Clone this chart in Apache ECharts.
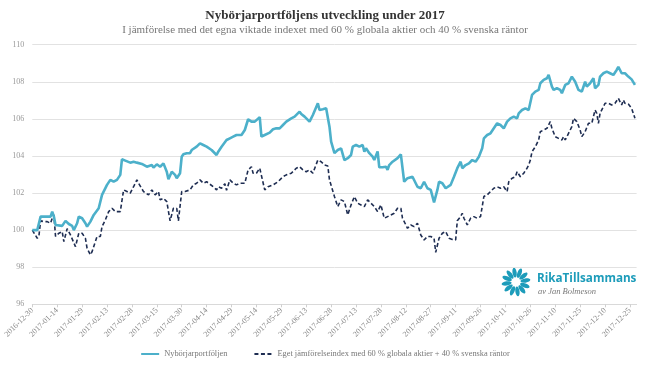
<!DOCTYPE html>
<html><head><meta charset="utf-8">
<script src="https://cdn.jsdelivr.net/npm/echarts@6/dist/echarts.min.js"></script>
<style>html,body{margin:0;padding:0;background:#fff}#c{width:650px;height:366px}</style>
</head><body><div id="c"></div>
<script>
const titleText = 'Nybörjarportföljens utveckling under 2017';
const subtitleText = 'I jämförelse med det egna viktade indexet med 60 % globala aktier och 40 % svenska räntor';
const seriesNames = ['Nybörjarportföljen', 'Eget jämförelseindex med 60 % globala aktier + 40 % svenska räntor'];
const startDate = '2016-12-30';
const dayCount = 365;
const yTicks = [96, 98, 100, 102, 104, 106, 108, 110];

// days since 2016-12-30
const portfolioDays = [
0,3,5,11,12,13,14,18,19,20,
22,24,25,27,28,30,32,33,35,37,
40,42,45,47,48,49,51,53,54,56,
59,61,63,66,69,70,72,73,75,77,
79,80,81,82,84,86,87,89,90,91,
93,95,96,97,99,101,103,105,108,111,
112,114,115,117,119,121,123,126,128,130,
132,134,137,138,140,143,145,147,149,151,
153,156,158,161,162,164,167,169,172,173,
175,177,179,180,182,184,186,188,190,192,
193,195,197,199,200,201,203,205,206,208,
209,211,213,214,215,217,220,222,224,226,
229,230,232,234,236,238,240,242,244,245,
247,249,250,252,254,256,258,259,261,263,
265,267,269,271,272,274,276,278,280,282,
284,286,288,290,291,292,293,295,297,299,
301,303,305,306,308,310,311,313,314,316,
318,319,321,323,325,327,329,331,333,334,
336,338,339,341,342,344,346,348,349,350,
352,353,355,357,359,361,363];
const portfolioValues = [
100.0,100.0,100.73,100.73,101.0,100.73,100.28,100.23,100.2,100.5,
100.33,100.23,100.0,100.37,100.73,100.64,100.37,100.19,100.46,100.82,
101.18,101.9,102.44,102.71,102.8,102.61,102.71,102.98,103.82,103.75,
103.64,103.69,103.64,103.57,103.42,103.51,103.51,103.37,103.55,103.42,
103.6,103.64,103.15,102.74,103.15,102.98,102.8,103.07,103.96,104.09,
104.15,104.15,104.32,104.41,104.5,104.68,104.59,104.5,104.32,104.05,
104.23,104.5,104.41,104.86,104.95,105.04,105.13,105.13,105.4,105.98,
105.85,105.85,106.09,105.04,105.13,105.26,105.44,105.49,105.49,105.67,
105.85,106.03,106.12,106.39,106.26,106.12,105.85,106.21,106.84,106.48,
106.52,106.57,105.58,104.77,104.15,104.32,104.41,103.78,103.88,104.05,
104.5,104.59,104.5,104.59,104.23,104.41,104.15,103.96,103.78,104.24,
103.39,103.39,103.42,103.25,103.51,103.69,103.88,104.09,102.61,102.8,
102.88,102.98,102.34,102.26,102.61,102.26,102.17,101.5,102.17,102.61,
102.53,102.26,102.17,102.44,102.88,103.34,103.69,103.34,103.51,103.6,
103.78,103.69,103.96,104.41,104.95,105.13,105.22,105.49,105.76,105.67,
105.49,105.85,106.03,106.12,106.21,106.03,106.3,106.48,106.57,106.48,
107.29,107.47,107.56,107.92,108.1,108.19,108.37,107.74,107.56,107.65,
107.56,107.38,107.83,107.92,108.28,108.0,107.56,107.47,108.0,107.74,
107.92,108.19,107.65,107.83,108.28,108.46,108.55,108.46,108.46,108.37,
108.64,108.81,108.46,108.46,108.28,108.13,107.83];

const indexDays = [
0,1,3,4,5,7,9,11,12,13,
14,16,17,18,19,21,23,24,26,28,
30,32,33,35,36,39,41,42,44,46,
48,50,53,55,57,59,61,63,64,67,
70,72,74,76,77,79,81,83,85,87,
88,90,92,95,97,99,101,103,105,109,
111,112,113,114,115,116,117,119,121,123,
125,128,130,132,133,135,137,140,142,145,
148,151,153,156,159,161,163,165,167,169,
170,172,174,176,178,179,182,184,186,188,
190,192,194,196,198,200,202,204,206,208,
210,212,214,216,218,220,222,223,226,228,
230,232,234,236,238,240,242,243,245,247,
249,251,253,255,256,258,259,260,262,264,
266,268,270,271,272,274,276,278,280,282,
284,286,287,289,291,292,294,296,298,299,
300,301,303,305,306,308,310,312,313,315,
317,319,320,321,323,325,326,328,330,331,
333,335,337,338,339,340,341,342,344,345,
347,349,351,352,353,354,355,356,357,359,
361,362,363];
const indexValues = [
100.0,99.95,99.56,99.7,100.5,100.46,100.46,100.37,100.64,100.82,
99.66,99.83,99.74,99.92,99.38,100.08,99.74,99.66,99.11,99.83,
99.83,99.56,99.02,98.67,98.84,99.66,99.66,100.19,100.55,101.0,
101.18,101.0,101.0,102.17,102.08,101.99,102.34,102.71,102.53,102.08,
101.9,102.17,101.9,102.08,101.63,101.72,101.54,100.5,101.18,101.18,
100.5,102.08,102.08,102.17,102.44,102.53,102.71,102.53,102.61,102.34,
102.17,102.34,102.4,102.26,102.34,102.5,102.15,102.71,102.53,102.44,
102.53,102.53,103.25,103.42,103.07,103.07,103.34,102.17,102.34,102.44,
102.61,102.88,102.98,103.07,103.34,103.42,103.25,103.15,103.25,103.07,
102.98,103.78,103.69,103.51,103.46,102.71,101.81,101.27,101.63,101.54,
100.82,101.36,101.81,101.45,101.36,101.27,101.63,101.45,101.27,101.0,
101.36,100.64,100.73,100.82,100.91,101.18,101.18,100.64,100.1,100.28,
100.19,100.37,99.74,99.47,99.66,99.66,99.56,98.8,99.56,99.83,
99.92,99.56,99.5,99.47,100.5,100.73,100.91,100.64,100.28,100.64,
100.73,100.64,100.73,101.27,101.81,101.9,102.08,102.26,102.34,102.26,
102.34,102.08,102.61,102.8,102.88,103.15,102.88,103.07,103.34,103.51,
103.78,104.23,104.5,104.86,105.31,105.4,105.49,105.85,105.49,105.04,
104.95,104.86,105.04,104.86,105.22,105.58,106.03,105.85,105.4,105.04,
105.31,105.76,105.76,105.67,106.48,106.3,105.76,106.3,106.66,106.84,
106.84,106.75,106.84,106.84,107.11,107.2,106.75,107.02,106.84,106.8,
106.57,106.48,106.03];

// calendar-day categories
const categories = [];
(function(){
  const p = startDate.split('-').map(Number);
  const t0 = Date.UTC(p[0], p[1]-1, p[2]);
  for (let i = 0; i < dayCount; i++) {
    const d = new Date(t0 + i*86400000);
    const s = d.getUTCFullYear() + '-' + String(d.getUTCMonth()+1).padStart(2,'0') + '-' + String(d.getUTCDate()).padStart(2,'0');
    categories.push(s);
  }
})();

const serif = '"Liberation Serif", "DejaVu Serif", serif';
const chart = echarts.init(document.getElementById('c'), null, {renderer:'canvas'});

const petals = [];
for (let k = 0; k < 12; k++) {
  petals.push({
    type: 'ellipse', x: 516, y: 282, rotation: k * Math.PI / 6 + 0.15,
    shape: {cx: 0, cy: -9.5, rx: 2.1, ry: 5},
    style: {fill: '#1d9cba'}, silent: true
  });
}

chart.setOption({
  animation: false,
  backgroundColor: '#fff',
  title: {
    text: titleText, subtext: subtitleText, left: 'center', top: 4, itemGap: 3,
    textStyle: {fontFamily: serif, fontSize: 13, fontWeight: 'bold', color: '#333'},
    subtextStyle: {fontFamily: serif, fontSize: 11, color: '#777'}
  },
  grid: {left: 32.3, top: 44.7, width: 604.3, height: 259.6, containLabel: false},
  legend: {
    data: seriesNames, top: 345, left: 'center', itemGap: 26, itemWidth: 18, itemHeight: 8,
    itemStyle: {opacity: 0},
    textStyle: {fontFamily: serif, fontSize: 8.4, color: '#777'}
  },
  xAxis: {
    type: 'category', data: categories, boundaryGap: false,
    axisLine: {lineStyle: {color: '#d9d9d9'}},
    axisTick: {interval: 14, length: 3, lineStyle: {color: '#d0d0d0'}},
    axisLabel: {interval: 14, rotate: 45, fontFamily: serif, fontSize: 8, color: '#888', margin: 5}
  },
  yAxis: {
    type: 'value', min: yTicks[0], max: yTicks[yTicks.length-1], interval: 2,
    axisLine: {show: false}, axisTick: {show: false},
    axisLabel: {fontFamily: serif, fontSize: 8, color: '#999', margin: 8},
    splitLine: {lineStyle: {color: '#e2e2e2'}}
  },
  graphic: [
    {type: 'group', children: petals},
    {type: 'text', x: 537, y: 273, style: {text: 'RikaTillsammans', font: 'bold 11.7px "Open Sans", sans-serif', fill: '#1d9cba'}},
    {type: 'text', x: 538, y: 287, style: {text: 'av Jan Bolmeson', font: 'italic 8.5px "Liberation Serif", serif', fill: '#777'}}
  ],
  series: [
    {
      name: seriesNames[0], type: 'line', symbol: 'none', z: 3,
      data: portfolioDays.map((d, i) => [d, portfolioValues[i]]),
      lineStyle: {color: '#4cb0ca', width: 2.6}, itemStyle: {color: '#4cb0ca'}
    },
    {
      name: seriesNames[1], type: 'line', symbol: 'none', z: 2,
      data: indexDays.map((d, i) => [d, indexValues[i]]),
      lineStyle: {color: '#1e2d52', width: 1.6, type: [4, 2.5]}, itemStyle: {color: '#1e2d52'}
    }
  ]
});
</script></body></html>
